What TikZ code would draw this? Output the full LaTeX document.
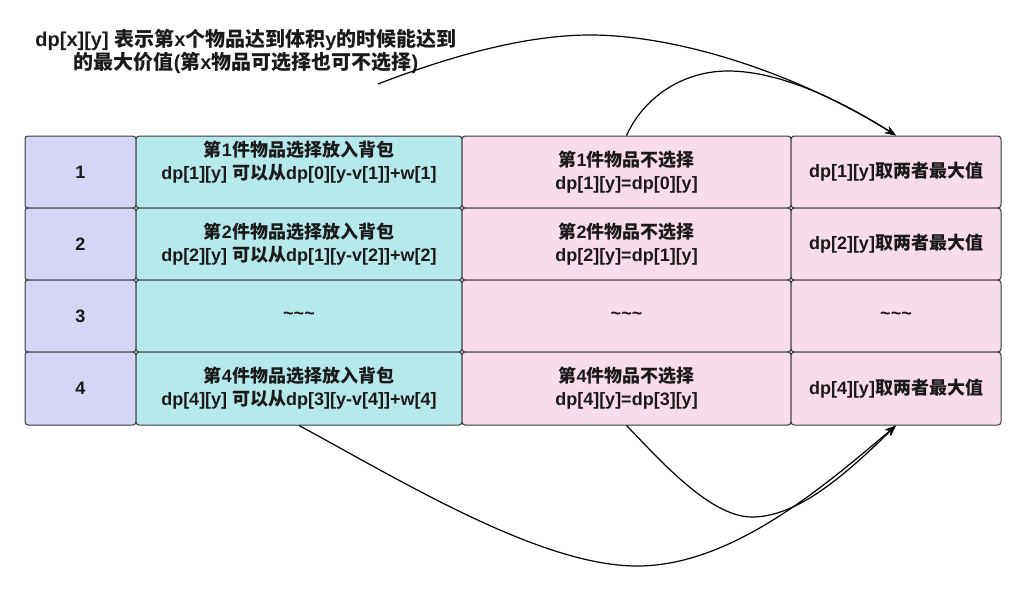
\documentclass[tikz,border=0pt]{standalone}
\usepackage{fontspec}
\setmainfont{Liberation Sans}
\newfontfamily\cjk{Noto Sans CJK SC}
\newcommand{\C}[1]{{\cjk #1}}
\usetikzlibrary{arrows.meta}
\definecolor{colA}{HTML}{D4D5F7}
\definecolor{colB}{HTML}{B6EAEA}
\definecolor{colC}{HTML}{F9DCEC}
\definecolor{bordr}{HTML}{36393D}
\definecolor{txt}{HTML}{1A1A1A}
\tikzset{
  cell/.style={draw=bordr, line width=1pt, rounded corners=3pt, inner sep=0pt,
    minimum height=72pt, align=center, text=txt,
    font=\bfseries\fontsize{18}{23}\selectfont},
  cA/.style={cell, fill=colA, minimum width=111pt},
  cB/.style={cell, fill=colB, minimum width=326pt},
  cC/.style={cell, fill=colC, minimum width=329pt},
  cD/.style={cell, fill=colC, minimum width=210pt},
  titletext/.style={align=center, text=txt, inner sep=0pt,
    font=\bfseries\fontsize{20}{23}\selectfont},
  link/.style={line width=1.2pt, black, -{Stealth[length=11pt,width=8pt]}}
}
\begin{document}
\begin{tikzpicture}[x=1pt,y=-1pt]
\useasboundingbox (0,0) rectangle (1026,590);

\node[titletext] (title) at (246,51.5) {dp[x][y] \C{表示第}x\C{个物品达到体积}y\C{的时候能达到}\\\C{的最大价值}(\C{第}x\C{物品可选择也可不选择})};
\coordinate (tstart) at (378,84);

% row 1
\node[cA] (r1c1) at (80.5,172) {1};
\node[cB] (r1c2) at (299,172) {\C{第}1\C{件物品选择放入背包}\\dp[1][y] \C{可以从}dp[0][y-v[1]]+w[1]\\\mbox{}};
\node[cC] (r1c3) at (626.5,172) {\C{第}1\C{件物品不选择}\\dp[1][y]=dp[0][y]};
\node[cD] (r1c4) at (896,172) {dp[1][y]\C{取两者最大值}};
% row 2
\node[cA] (r2c1) at (80.5,244) {2};
\node[cB] (r2c2) at (299,244) {\C{第}2\C{件物品选择放入背包}\\dp[2][y] \C{可以从}dp[1][y-v[2]]+w[2]};
\node[cC] (r2c3) at (626.5,244) {\C{第}2\C{件物品不选择}\\dp[2][y]=dp[1][y]};
\node[cD] (r2c4) at (896,244) {dp[2][y]\C{取两者最大值}};
% row 3
\node[cA] (r3c1) at (80.5,316) {3};
\node[cB] (r3c2) at (299,316) {\textasciitilde\textasciitilde\textasciitilde};
\node[cC] (r3c3) at (626.5,316) {\textasciitilde\textasciitilde\textasciitilde};
\node[cD] (r3c4) at (896,316) {\textasciitilde\textasciitilde\textasciitilde};
% row 4
\node[cA, minimum height=73pt] (r4c1) at (80.5,388.5) {4};
\node[cB, minimum height=73pt] (r4c2) at (299,388.5) {\C{第}4\C{件物品选择放入背包}\\dp[4][y] \C{可以从}dp[3][y-v[4]]+w[4]};
\node[cC, minimum height=73pt] (r4c3) at (626.5,388.5) {\C{第}4\C{件物品不选择}\\dp[4][y]=dp[3][y]};
\node[cD, minimum height=73pt] (r4c4) at (896,388.5) {dp[4][y]\C{取两者最大值}};

% top connectors
\draw[link] (tstart) .. controls (440,60) and (520,35) .. (590,35)
  .. controls (680,35) and (800,75) .. (r1c4.north);
\draw[link] (r1c3.north) .. controls (645,95) and (685,71) .. (728,71)
  .. controls (780,71) and (840,100) .. (r1c4.north);
% bottom connectors
\draw[link] (r4c2.south) .. controls (400,480) and (540,566) .. (637,566)
  .. controls (730,566) and (820,490) .. (r4c4.south);
\draw[link] (r4c3.south) .. controls (660,460) and (710,517) .. (752,517)
  .. controls (800,517) and (850,470) .. (r4c4.south);
\end{tikzpicture}
\end{document}
